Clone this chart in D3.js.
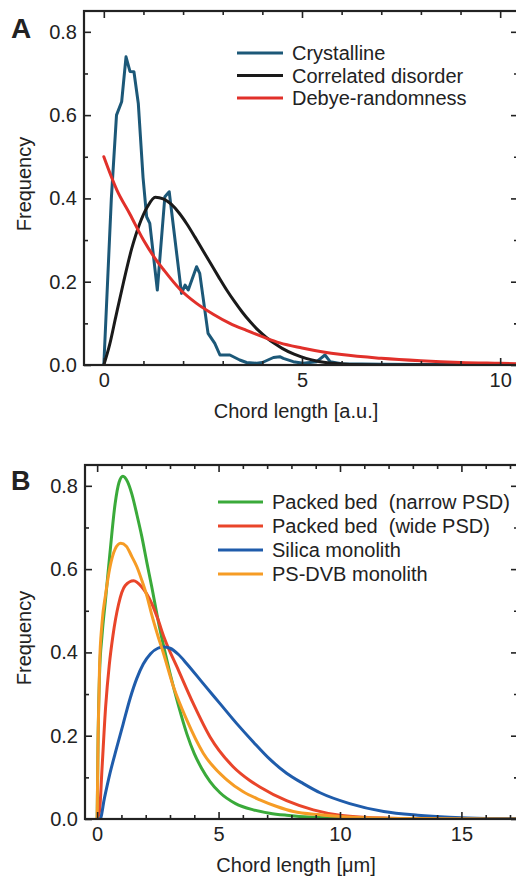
<!DOCTYPE html>
<html><head><meta charset="utf-8">
<script src="https://cdn.jsdelivr.net/npm/d3@7"></script>
<style>
body{margin:0;background:#fff}
svg{display:block}
text{font-family:"Liberation Sans",Arial,Helvetica,sans-serif;fill:#222}
</style>
</head><body>
<svg id="chart" width="516" height="880"></svg>
<script>
// ---------- Panel A data ----------
const crystalline = [[0,0],[0.19,0.40],[0.32,0.60],[0.45,0.632],[0.56,0.74],[0.66,0.705],[0.76,0.704],[0.87,0.628],[0.99,0.45],[1.08,0.356],[1.16,0.34],[1.35,0.18],[1.54,0.404],[1.65,0.416],[1.96,0.172],[2.05,0.192],[2.13,0.18],[2.34,0.236],[2.42,0.22],[2.63,0.076],[2.8,0.052],[2.93,0.024],[3.18,0.024],[3.43,0.012],[3.6,0.006],[3.86,0.004],[4.0,0.006],[4.28,0.018],[4.44,0.02],[4.53,0.016],[4.78,0.008],[5.03,0.004],[5.37,0.008],[5.58,0.024],[5.71,0.008],[6.0,0.003],[7.0,0.002],[8.0,0.001],[10.5,0]];
const correlated = [[0,0],[0.15,0.05],[0.3,0.115],[0.5,0.2],[0.7,0.278],[0.9,0.338],[1.1,0.38],[1.3,0.403],[1.5,0.399],[1.7,0.386],[1.9,0.365],[2.1,0.338],[2.3,0.307],[2.5,0.275],[2.7,0.243],[2.9,0.211],[3.1,0.18],[3.3,0.152],[3.5,0.126],[3.7,0.103],[3.9,0.083],[4.1,0.066],[4.3,0.052],[4.5,0.04],[4.8,0.026],[5.1,0.016],[5.4,0.009],[5.8,0.004],[6.2,0.001],[7.0,0],[10.5,0]];
const debye = [[0,0.5],[0.33,0.42],[0.66,0.362],[1.0,0.3],[1.3,0.255],[1.5,0.23],[1.92,0.182],[2.34,0.148],[2.76,0.122],[3.18,0.1],[3.6,0.083],[4.0,0.068],[4.44,0.053],[5.0,0.041],[5.5,0.032],[6.0,0.025],[7.0,0.016],[8.0,0.01],[9.0,0.006],[10.0,0.004],[10.5,0.003]];

// ---------- Panel B data ----------
const packedNarrow = [[0,0],[0.04,0.2],[0.1,0.35],[0.2,0.44],[0.35,0.53],[0.53,0.64],[0.74,0.757],[0.9,0.808],[1.06,0.823],[1.25,0.81],[1.43,0.78],[1.64,0.73],[1.84,0.678],[2.05,0.615],[2.25,0.557],[2.5,0.48],[2.75,0.412],[3.0,0.35],[3.35,0.272],[3.69,0.205],[4.0,0.157],[4.3,0.122],[4.65,0.09],[5.06,0.063],[5.7,0.037],[6.43,0.022],[7.1,0.014],[7.8,0.009],[8.9,0.004],[10,0.002],[12,0.001],[18,0]];
const packedWide = [[0,0],[0.1,0.02],[0.2,0.12],[0.35,0.27],[0.5,0.37],[0.65,0.44],[0.88,0.515],[1.15,0.56],[1.5,0.572],[1.84,0.557],[2.25,0.517],[2.5,0.48],[2.75,0.437],[3.35,0.357],[3.96,0.277],[4.65,0.197],[5.61,0.125],[6.3,0.092],[6.7,0.077],[7.8,0.044],[8.9,0.022],[10,0.009],[11,0.004],[12,0.002],[13,0.001],[18,0]];
const silicaMonolith = [[0,0],[0.12,0],[0.3,0.05],[0.53,0.11],[0.8,0.17],[1.07,0.228],[1.36,0.29],[1.63,0.337],[1.9,0.372],[2.2,0.397],[2.5,0.41],[2.73,0.413],[3.0,0.41],[3.35,0.395],[3.69,0.373],[4.37,0.325],[5.06,0.277],[5.75,0.229],[6.43,0.185],[7.12,0.143],[7.8,0.11],[8.49,0.085],[9.18,0.063],[10.4,0.037],[11.8,0.018],[13.2,0.009],[14.5,0.004],[16,0.001],[18,0]];
const psdvbMonolith = [[0,0],[0.04,0.2],[0.1,0.37],[0.2,0.47],[0.35,0.54],[0.53,0.605],[0.74,0.648],[0.97,0.662],[1.2,0.655],[1.43,0.63],[1.64,0.605],[1.84,0.573],[2.05,0.535],[2.25,0.49],[2.5,0.44],[2.73,0.398],[3.14,0.318],[3.69,0.238],[4.37,0.158],[5.34,0.094],[6.0,0.066],[6.7,0.046],[7.4,0.03],[8.08,0.018],[9.18,0.01],[10,0.006],[11,0.003],[13,0.001],[18,0]];

// ---------- ticks / labels ----------
const xMajorA = [0,5,10];
const xMinorA = [1,2,3,4,6,7,8,9];
const xMajorB = [0,5,10,15];
const xMinorB = [1,2,3,4,6,7,8,9,11,12,13,14,16,17];
const yMajor = [0,0.2,0.4,0.6,0.8];
const yMinor = [0.1,0.3,0.5,0.7];
const legendA = ["Crystalline","Correlated disorder","Debye-randomness"];
const legendB = ["Packed bed\u00a0\u00a0(narrow PSD)","Packed bed\u00a0\u00a0(wide PSD)","Silica monolith","PS-DVB monolith"];

const svg = d3.select("#chart");
const FS = "20px";

function panel(cfg){
  const g = svg.append("g");
  const x = d3.scaleLinear().domain(cfg.xDomain).range([cfg.left, cfg.right]);
  const y = d3.scaleLinear().domain([0,0.85]).range([cfg.bottom, cfg.top]);
  const clipId = "clip"+cfg.name;
  svg.append("clipPath").attr("id",clipId).append("rect")
    .attr("x",cfg.left).attr("y",cfg.top-2).attr("width",cfg.right-cfg.left).attr("height",cfg.bottom-cfg.top+2);

  const lines = g.append("g").attr("clip-path",`url(#${clipId})`);
  cfg.series.forEach(s=>{
    lines.append("path").datum(s.data)
      .attr("fill","none").attr("stroke",s.color).attr("stroke-width",3)
      .attr("stroke-linejoin","round").attr("stroke-linecap","round")
      .attr("d", d3.line().x(d=>x(d[0])).y(d=>y(d[1])).curve(s.curve)(s.data));
  });

  const style = sel => { sel.select(".domain").remove(); sel.selectAll("line").attr("stroke","#222").attr("stroke-width",1.6); sel.selectAll("text").style("font-size",FS).attr("fill","#222"); };
  g.append("g").attr("transform",`translate(0,${cfg.bottom})`).call(d3.axisBottom(x).tickValues(cfg.xMajor).tickSize(-7).tickPadding(8).tickFormat(d3.format("d"))).call(style);
  g.append("g").attr("transform",`translate(0,${cfg.bottom})`).call(d3.axisBottom(x).tickValues(cfg.xMinor).tickSize(-4).tickFormat("")).call(style);
  g.append("g").attr("transform",`translate(0,${cfg.top})`).call(d3.axisTop(x).tickValues(cfg.xMajor).tickSize(-7).tickFormat("")).call(style);
  g.append("g").attr("transform",`translate(0,${cfg.top})`).call(d3.axisTop(x).tickValues(cfg.xMinor).tickSize(-4).tickFormat("")).call(style);
  g.append("g").attr("transform",`translate(${cfg.left},0)`).call(d3.axisLeft(y).tickValues(yMajor).tickSize(-7).tickPadding(7).tickFormat(d3.format(".1f"))).call(style);
  g.append("g").attr("transform",`translate(${cfg.left},0)`).call(d3.axisLeft(y).tickValues(yMinor).tickSize(-4).tickFormat("")).call(style);
  g.append("g").attr("transform",`translate(${cfg.right},0)`).call(d3.axisRight(y).tickValues(yMajor).tickSize(-7).tickFormat("")).call(style);
  g.append("g").attr("transform",`translate(${cfg.right},0)`).call(d3.axisRight(y).tickValues(yMinor).tickSize(-4).tickFormat("")).call(style);

  g.append("rect").attr("x",cfg.left).attr("y",cfg.top).attr("width",cfg.right-cfg.left).attr("height",cfg.bottom-cfg.top)
    .attr("fill","none").attr("stroke","#222").attr("stroke-width",2.2);

  g.append("text").attr("x",cfg.titleX).attr("y",cfg.bottom+53).attr("text-anchor","middle").style("font-size",FS).text(cfg.xTitle);
  g.append("text").attr("transform",`translate(31,${(cfg.top+cfg.bottom)/2 - 4}) rotate(-90)`).attr("text-anchor","middle").style("font-size",FS).text("Frequency");
  g.append("text").attr("x",11).attr("y",cfg.top+cfg.labelDy).style("font-size",cfg.labelSize+"px").style("font-weight","bold").attr("fill","#111").text(cfg.name);

  const lg = g.append("g");
  cfg.series.forEach((s,i)=>{
    const ly = cfg.legY + i*cfg.legStep;
    lg.append("line").attr("x1",cfg.legX1).attr("x2",cfg.legX2).attr("y1",ly).attr("y2",ly).attr("stroke",s.color).attr("stroke-width",3);
    lg.append("text").attr("x",cfg.legX2+9).attr("y",ly).attr("dy","0.35em").style("font-size",FS).text(s.label);
  });
}

panel({
  name:"A", xDomain:[-0.5,10.45], left:84, right:518, top:11, bottom:365,
  xMajor:xMajorA, xMinor:xMinorA, xTitle:"Chord length [a.u.]", titleX:296,
  labelDy:27, labelSize:28,
  legX1:237, legX2:283, legY:53, legStep:22.5,
  series:[
    {data:crystalline, color:"#1c5878", label:legendA[0], curve:d3.curveLinear},
    {data:correlated, color:"#1a1a1a", label:legendA[1], curve:d3.curveMonotoneX},
    {data:debye, color:"#e1302a", label:legendA[2], curve:d3.curveMonotoneX}
  ]
});

panel({
  name:"B", xDomain:[-0.5,17.33], left:85, right:518, top:465, bottom:819,
  xMajor:xMajorB, xMinor:xMinorB, xTitle:"Chord length [\u03bcm]", titleX:296,
  labelDy:25, labelSize:27,
  legX1:218, legX2:263, legY:502, legStep:24,
  series:[
    {data:packedNarrow, color:"#3aaa3a", label:legendB[0], curve:d3.curveMonotoneX},
    {data:packedWide, color:"#e9452a", label:legendB[1], curve:d3.curveMonotoneX},
    {data:silicaMonolith, color:"#1f5cab", label:legendB[2], curve:d3.curveMonotoneX},
    {data:psdvbMonolith, color:"#f69c25", label:legendB[3], curve:d3.curveMonotoneX}
  ]
});
</script>
</body></html>
